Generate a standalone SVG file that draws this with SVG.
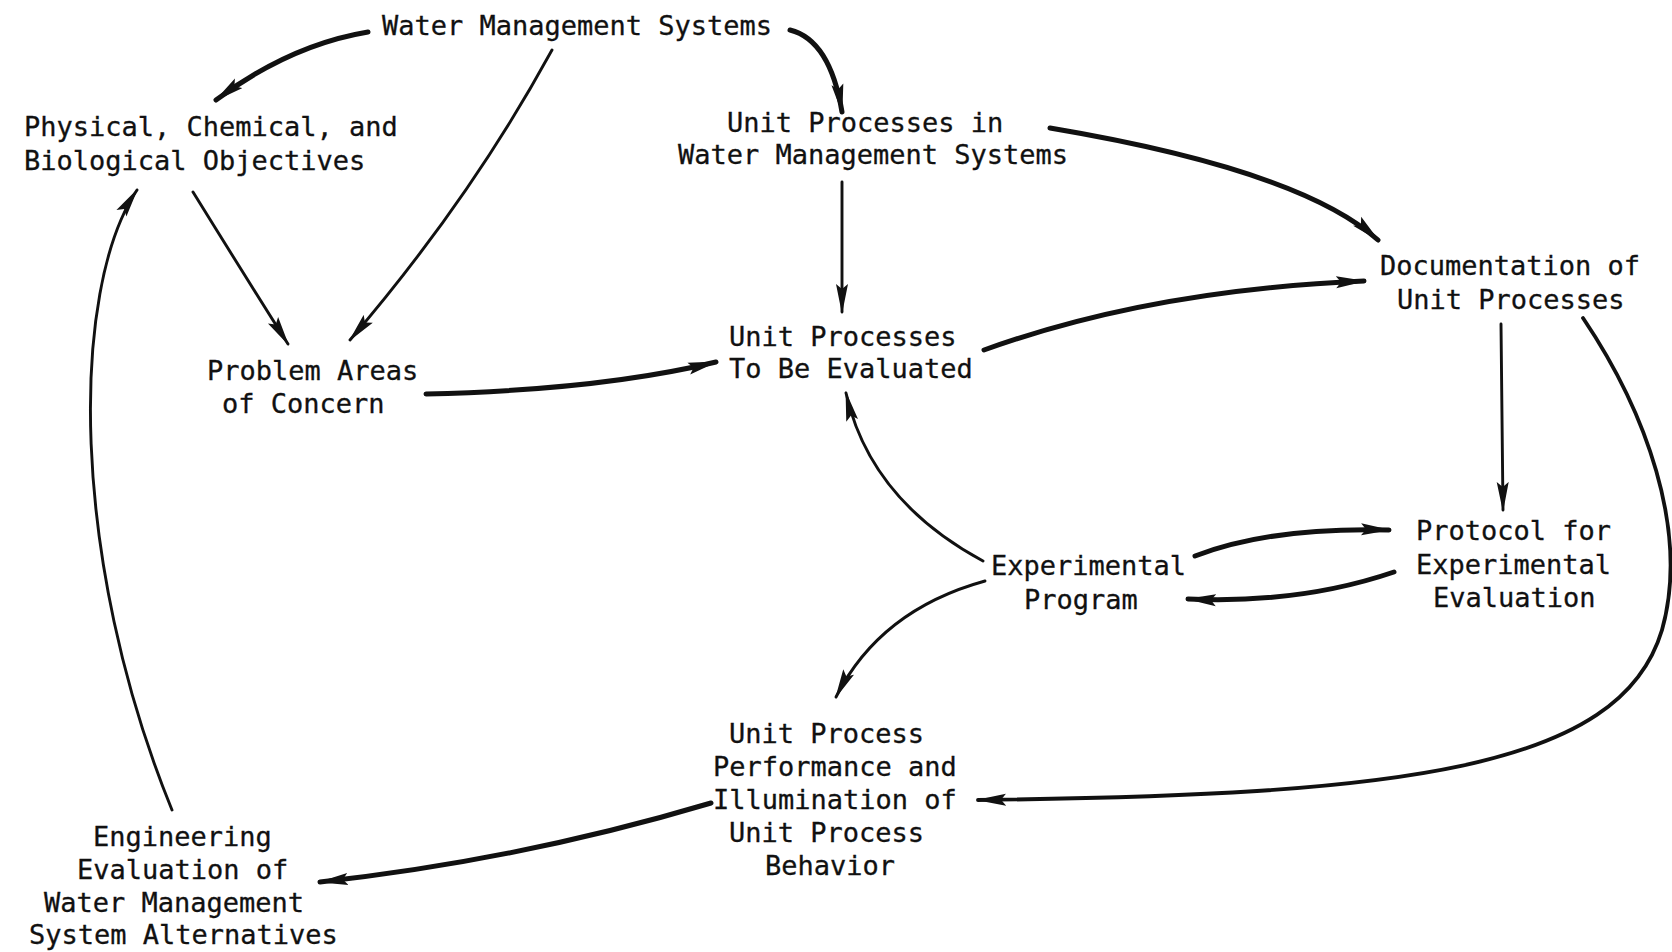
<svg xmlns="http://www.w3.org/2000/svg" width="1672" height="952" viewBox="0 0 1672 952">
<style>
text{font-family:"DejaVu Sans Mono","Liberation Mono",monospace;font-size:27px;fill:#111;stroke:#111;stroke-width:0.3}
.c{fill:none;stroke:#111;stroke-linecap:round}
.k{stroke-width:5}
.m{stroke-width:3.8}
.n{stroke-width:2.9}
</style>
<defs>
<marker id="ah" viewBox="0 0 30 14" refX="28" refY="7" markerWidth="30" markerHeight="14" markerUnits="userSpaceOnUse" orient="auto">
<path d="M0,1 L30,7 L0,13 L5,7 Z" fill="#111"/>
</marker>
</defs>
<rect width="1672" height="952" fill="#fff"/>
<g id="connectors">
<path class="c k" d="M368,32 Q290,45 216,100" marker-end="url(#ah)"/>
<path class="c n" d="M552,50 Q470,200 350,340" marker-end="url(#ah)"/>
<path class="c n" d="M193,192 Q240,268 288,344" marker-end="url(#ah)"/>
<path class="c k" d="M790,30 Q830,40 842,112" marker-end="url(#ah)"/>
<path class="c k" d="M1050,128 Q1300,170 1378,240" marker-end="url(#ah)"/>
<path class="c n" d="M842,182 L842,312" marker-end="url(#ah)"/>
<path class="c k" d="M426,394 Q600,390 716,362" marker-end="url(#ah)"/>
<path class="c k" d="M984,350 Q1150,290 1364,281" marker-end="url(#ah)"/>
<path class="c n" d="M1501,324 L1503,510" marker-end="url(#ah)"/>
<path class="c m" d="M1583,318 C1645,410 1690,530 1662,630 C1620,770 1400,795 978,800" marker-end="url(#ah)"/>
<path class="c n" d="M983,561 Q870,500 846,393" marker-end="url(#ah)"/>
<path class="c k" d="M1195,556 Q1270,527 1389,530" marker-end="url(#ah)"/>
<path class="c k" d="M1394,572 Q1300,604 1188,599" marker-end="url(#ah)"/>
<path class="c n" d="M985,581 Q880,610 836,697" marker-end="url(#ah)"/>
<path class="c k" d="M711,803 Q520,860 320,882" marker-end="url(#ah)"/>
<path class="c n" d="M172,810 C70,560 70,290 137,190" marker-end="url(#ah)"/>
</g>
<g id="n1"><text x="382" y="35">Water Management Systems</text></g>
<g id="n2"><text x="24" y="136">Physical, Chemical, and</text><text x="24" y="170">Biological Objectives</text></g>
<g id="n3"><text x="727" y="132">Unit Processes in</text><text x="678" y="164">Water Management Systems</text></g>
<g id="n4"><text x="207" y="380">Problem Areas</text><text x="222" y="413">of Concern</text></g>
<g id="n5"><text x="729" y="346">Unit Processes</text><text x="729" y="378">To Be Evaluated</text></g>
<g id="n6"><text x="1380" y="275">Documentation of</text><text x="1397" y="309">Unit Processes</text></g>
<g id="n7"><text x="1416" y="540">Protocol for</text><text x="1416" y="574">Experimental</text><text x="1433" y="607">Evaluation</text></g>
<g id="n8"><text x="991" y="575">Experimental</text><text x="1024" y="609">Program</text></g>
<g id="n9"><text x="729" y="743">Unit Process</text><text x="713" y="776">Performance and</text><text x="713" y="809">Illumination of</text><text x="729" y="842">Unit Process</text><text x="765" y="875">Behavior</text></g>
<g id="n10"><text x="93" y="846">Engineering</text><text x="77" y="879">Evaluation of</text><text x="44" y="912">Water Management</text><text x="29" y="944">System Alternatives</text></g>
</svg>
